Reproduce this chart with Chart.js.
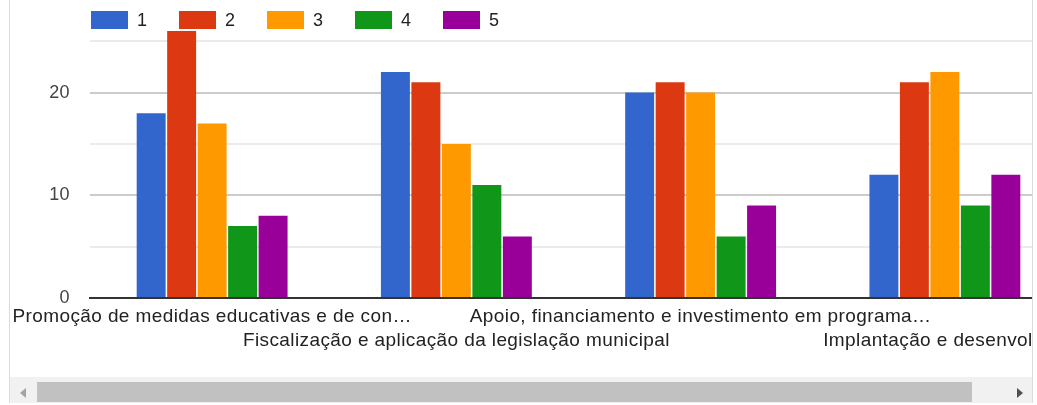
<!DOCTYPE html>
<html>
<head>
<meta charset="utf-8">
<script src="https://cdn.jsdelivr.net/npm/chart.js@4.4.0/dist/chart.umd.min.js"></script>
<style>
  html, body { margin: 0; padding: 0; background: #ffffff; }
  #frame { position: absolute; left: 9px; top: 0; width: 1022px; height: 403px;
           border-left: 1px solid #dcdcdc; border-right: 1px solid #dcdcdc; }
  #clip { position: absolute; left: 0; top: 0; width: 1022px; height: 377px; overflow: hidden; }
  #track { position: absolute; left: 0; top: 377px; width: 1022px; height: 26px; background: #f1f1f1; }
  #thumb { position: absolute; left: 27px; top: 5px; width: 935px; height: 20px; background: #c1c1c1; }
  #arrL { position: absolute; left: 10px; top: 11px; width: 0; height: 0;
          border-top: 5px solid transparent; border-bottom: 5px solid transparent; border-right: 6px solid #a3a3a3; }
  #arrR { position: absolute; left: 1007px; top: 11px; width: 0; height: 0;
          border-top: 5px solid transparent; border-bottom: 5px solid transparent; border-left: 6px solid #505050; }
</style>
</head>
<body>
<div id="frame">
  <div id="clip"><canvas id="c" width="1060" height="377"></canvas></div>
  <div id="track"><div id="thumb"></div><div id="arrL"></div><div id="arrR"></div></div>
</div>
<script>
const categories = [
  "Promoção de medidas educativas e de con…",
  "Fiscalização e aplicação da legislação municipal",
  "Apoio, financiamento e investimento em programa…",
  "Implantação e desenvolvi…"
];
const seriesNames = ["1", "2", "3", "4", "5"];
const rating1 = [18, 22, 20, 12];
const rating2 = [26, 21, 21, 21];
const rating3 = [17, 15, 20, 22];
const rating4 = [7, 11, 6, 9];
const rating5 = [8, 6, 9, 12];
const yTickLabels = [0, 10, 20];

const colors = ["#3366cc", "#dc3912", "#ff9900", "#109618", "#990099"];
const allSeries = [rating1, rating2, rating3, rating4, rating5];
const FONT = "Arial, 'Liberation Sans', sans-serif";

const legendPlugin = {
  id: 'gLegend',
  afterDraw(chart) {
    const ctx = chart.ctx;
    ctx.save();
    ctx.font = "18px " + FONT;
    ctx.textBaseline = 'middle';
    ctx.textAlign = 'left';
    chart.data.datasets.forEach((ds, i) => {
      const x = 81 + i * 88;
      ctx.fillStyle = ds.backgroundColor;
      ctx.fillRect(x, 11, 37, 18);
      ctx.fillStyle = '#222222';
      ctx.fillText(ds.label, x + 46, 21);
    });
    ctx.restore();
  }
};
const spacingPlugin = {
  id: 'spacing',
  beforeDraw(chart) { try { chart.ctx.letterSpacing = '0.4px'; } catch (e) {} }
};

new Chart(document.getElementById('c'), {
  type: 'bar',
  data: {
    labels: categories,
    datasets: seriesNames.map((n, i) => ({
      label: n,
      data: allSeries[i],
      backgroundColor: colors[i],
      borderWidth: 0,
      categoryPercentage: 0.624,
      barPercentage: 0.95
    }))
  },
  options: {
    responsive: false,
    animation: false,
    devicePixelRatio: 1,
    layout: { padding: { top: 31, right: 3, left: 0, bottom: 0 } },
    plugins: { legend: { display: false }, tooltip: { enabled: false } },
    scales: {
      x: {
        grid: { display: false, drawTicks: false },
        border: { display: true, color: '#333333', width: 2 },
        ticks: {
          autoSkip: false, maxRotation: 0, minRotation: 0, padding: 7,
          color: '#222222',
          font: { family: FONT, size: 19, lineHeight: 1.263 },
          callback: function (v, i) {
            const l = this.getLabelForValue(v);
            return i % 2 === 0 ? [l, ''] : ['', l];
          }
        },
        afterFit: s => { s.height = 79; s.paddingLeft = 0; s.paddingRight = 0; }
      },
      y: {
        min: 0, max: 26,
        border: { display: false },
        grid: {
          drawTicks: false, lineWidth: 2,
          color: c => c.tick.value === 0 ? '#333333' : (c.tick.value % 10 === 0 ? '#cccccc' : '#ebebeb')
        },
        ticks: {
          stepSize: 5, includeBounds: false, padding: 20, color: '#444444',
          font: { family: FONT, size: 18 },
          callback: v => yTickLabels.includes(v) ? String(v) : ''
        },
        afterFit: s => { s.width = 80; }
      }
    }
  },
  plugins: [spacingPlugin, legendPlugin]
});
</script>
</body>
</html>
